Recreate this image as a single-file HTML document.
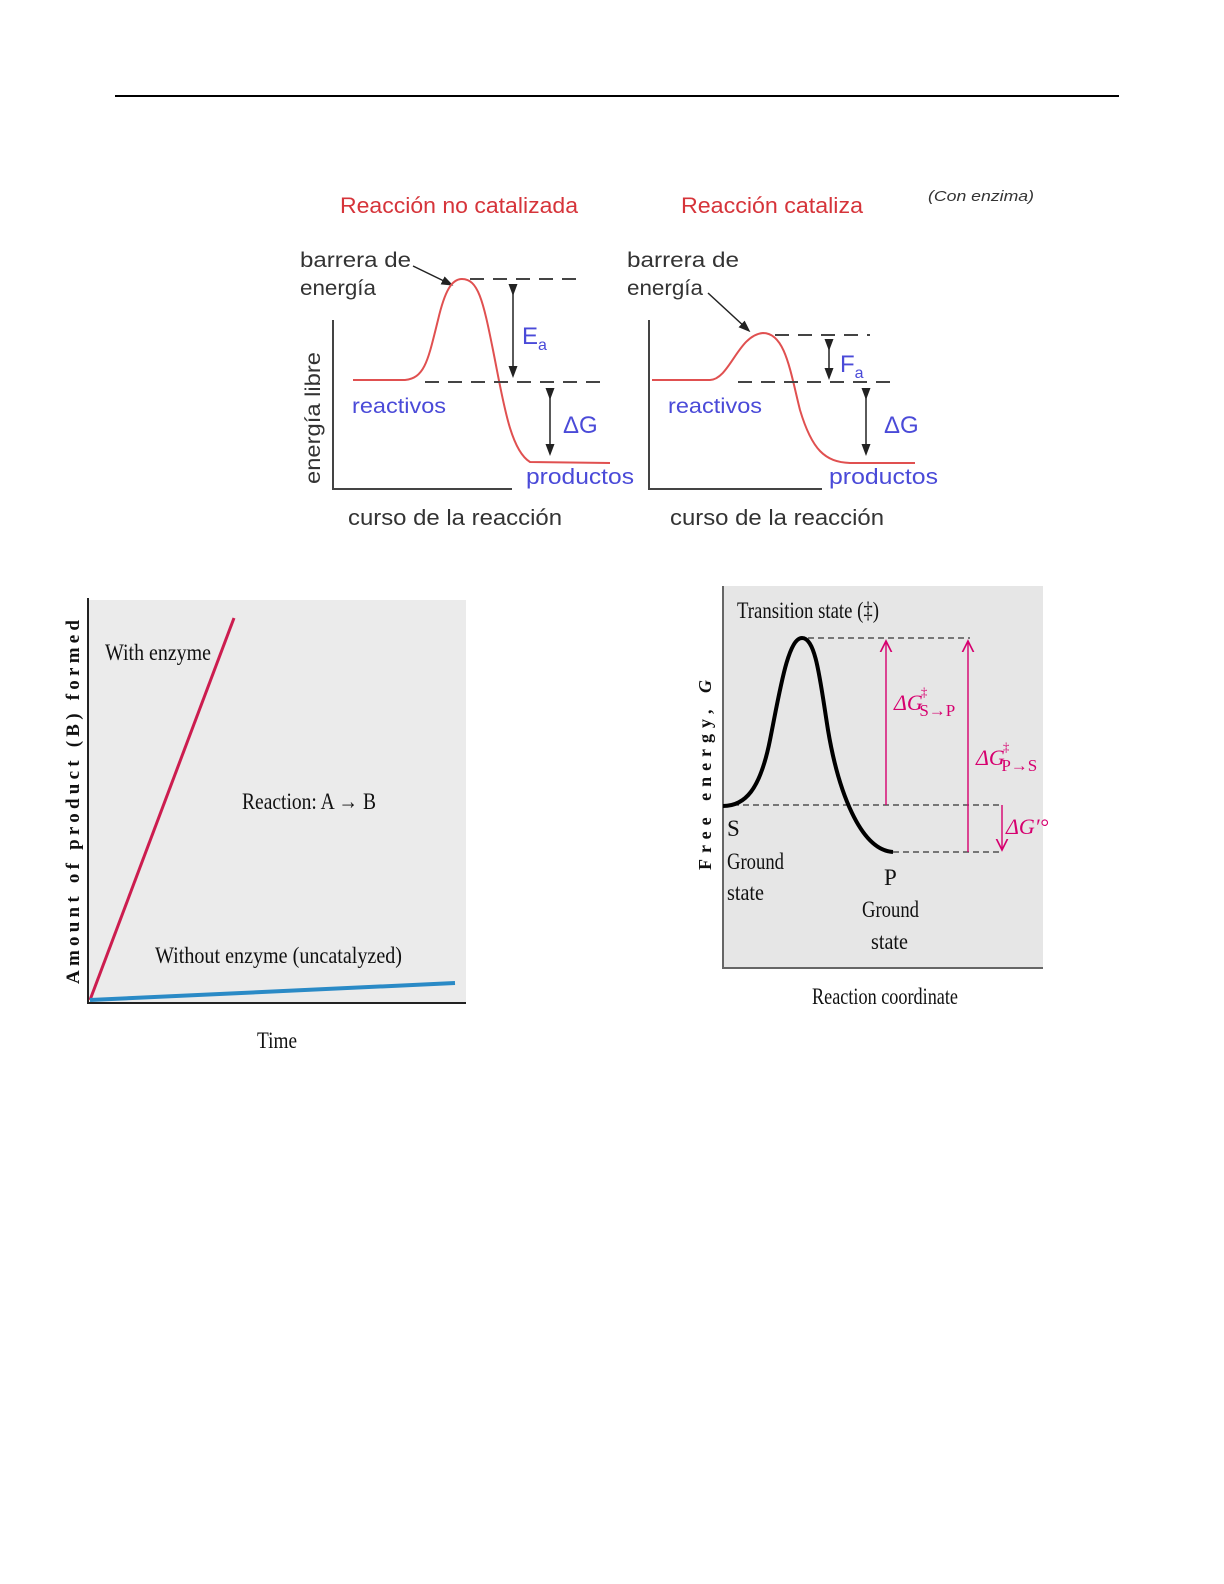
<!DOCTYPE html>
<html><head><meta charset="utf-8"><style>
html,body{margin:0;padding:0;background:#fff;}
svg{display:block;}
</style></head><body>
<svg width="1224" height="1584" viewBox="0 0 1224 1584" xmlns="http://www.w3.org/2000/svg">
<defs>
<marker id="ab" markerWidth="8" markerHeight="8" refX="4" refY="4" orient="auto"><path d="M0,1 L8,4 L0,7 z" fill="#222"/></marker>
<marker id="am" markerWidth="10" markerHeight="10" refX="8" refY="5" orient="auto"><path d="M0,1 L8,5 L0,9" fill="none" stroke="#d6006f" stroke-width="1.2"/></marker>
</defs>
<line x1="115" y1="96" x2="1119" y2="96" stroke="#000" stroke-width="2"/>

<g font-family="Liberation Sans, sans-serif">
<text x="340" y="213" font-size="22" fill="#d6343a" textLength="238" lengthAdjust="spacingAndGlyphs">Reacción no catalizada</text>
<text x="681" y="213" font-size="22" fill="#d6343a" textLength="182" lengthAdjust="spacingAndGlyphs">Reacción cataliza</text>
<text x="928" y="201" font-size="15" font-style="italic" fill="#333" textLength="106" lengthAdjust="spacingAndGlyphs">(Con enzima)</text>

<text x="300" y="267" font-size="21" fill="#333" textLength="111" lengthAdjust="spacingAndGlyphs">barrera de</text>
<text x="300" y="295" font-size="21" fill="#333" textLength="76" lengthAdjust="spacingAndGlyphs">energía</text>
<text x="627" y="267" font-size="21" fill="#333" textLength="112" lengthAdjust="spacingAndGlyphs">barrera de</text>
<text x="627" y="295" font-size="21" fill="#333" textLength="76" lengthAdjust="spacingAndGlyphs">energía</text>
<line x1="413" y1="266" x2="448" y2="283" stroke="#222" stroke-width="1.5" marker-end="url(#ab)"/>
<line x1="708" y1="293" x2="746" y2="328" stroke="#222" stroke-width="1.5" marker-end="url(#ab)"/>

<path d="M333,320 V489 H512" fill="none" stroke="#444" stroke-width="2"/>
<path d="M649,320 V489 H822" fill="none" stroke="#444" stroke-width="2"/>

<path d="M353,380 L405,380 C425,378 428,360 438,320 C445,290 452,279 462,279 C478,279 483,300 493,350 C503,400 510,450 530,462 L610,463" fill="none" stroke="#e05050" stroke-width="2"/>
<path d="M652,380 L710,380 C730,379 738,335 763,333 C785,333 790,370 800,410 C812,450 825,462 850,463 L915,463" fill="none" stroke="#e05050" stroke-width="2"/>

<g stroke="#444" stroke-width="2" stroke-dasharray="14,9">
<line x1="470" y1="279" x2="585" y2="279"/>
<line x1="425" y1="382" x2="605" y2="382"/>
<line x1="775" y1="335" x2="870" y2="335"/>
<line x1="738" y1="382" x2="898" y2="382"/>
</g>
<g stroke="#222" stroke-width="1.5">
<line x1="513" y1="290" x2="513" y2="372" marker-end="url(#ab)" marker-start="url(#ab)"/>
<line x1="550" y1="394" x2="550" y2="450" marker-end="url(#ab)" marker-start="url(#ab)"/>
<line x1="829" y1="345" x2="829" y2="374" marker-end="url(#ab)" marker-start="url(#ab)"/>
<line x1="866" y1="394" x2="866" y2="450" marker-end="url(#ab)" marker-start="url(#ab)"/>
</g>
<text x="522" y="344" font-size="24" fill="#4a4ad8">E<tspan font-size="16" dy="6">a</tspan></text>
<text x="840" y="372" font-size="24" fill="#4a4ad8">F<tspan font-size="16" dy="6">a</tspan></text>
<text x="563" y="433" font-size="24" fill="#4a4ad8">ΔG</text>
<text x="884" y="433" font-size="24" fill="#4a4ad8">ΔG</text>
<text x="352" y="413" font-size="21" fill="#4a4ad8" textLength="94" lengthAdjust="spacingAndGlyphs">reactivos</text>
<text x="668" y="413" font-size="21" fill="#4a4ad8" textLength="94" lengthAdjust="spacingAndGlyphs">reactivos</text>
<text x="526" y="484" font-size="22" fill="#4a4ad8" textLength="108" lengthAdjust="spacingAndGlyphs">productos</text>
<text x="829" y="484" font-size="22" fill="#4a4ad8" textLength="109" lengthAdjust="spacingAndGlyphs">productos</text>
<text x="348" y="525" font-size="22" fill="#333" textLength="214" lengthAdjust="spacingAndGlyphs">curso de la reacción</text>
<text x="670" y="525" font-size="22" fill="#333" textLength="214" lengthAdjust="spacingAndGlyphs">curso de la reacción</text>
<text transform="translate(320,418) rotate(-90)" text-anchor="middle" font-size="21" fill="#333" textLength="132" lengthAdjust="spacingAndGlyphs">energía libre</text>
</g>

<rect x="88" y="600" width="378" height="403" fill="#ebebeb"/>
<path d="M88,598 V1003 H466" fill="none" stroke="#222" stroke-width="2"/>
<line x1="90" y1="1000" x2="234" y2="618" stroke="#cc1d4f" stroke-width="3"/>
<line x1="90" y1="1000" x2="455" y2="983" stroke="#2a8ac6" stroke-width="4"/>
<g font-family="Liberation Serif, serif" fill="#111">
<text x="105" y="660" font-size="23" textLength="106" lengthAdjust="spacingAndGlyphs">With enzyme</text>
<text x="242" y="809" font-size="23" textLength="134" lengthAdjust="spacingAndGlyphs">Reaction: A → B</text>
<text x="155" y="963" font-size="23" textLength="247" lengthAdjust="spacingAndGlyphs">Without enzyme (uncatalyzed)</text>
<text x="257" y="1048" font-size="23" textLength="40" lengthAdjust="spacingAndGlyphs">Time</text>
<text transform="translate(79,802) rotate(-90)" text-anchor="middle" font-size="19" font-weight="bold" textLength="364" lengthAdjust="spacing">Amount of product (B) formed</text>
</g>

<rect x="723" y="586" width="320" height="382" fill="#e6e6e6"/>
<path d="M723,586 V968 H1043" fill="none" stroke="#666" stroke-width="2"/>
<g stroke="#333" stroke-width="1.2" stroke-dasharray="6,4">
<line x1="808" y1="638" x2="970" y2="638"/>
<line x1="723" y1="805" x2="1002" y2="805"/>
<line x1="893" y1="852" x2="1002" y2="852"/>
</g>
<path d="M723,806 C745,806 760,790 770,740 C780,690 788,638 802,638 C816,638 820,680 828,730 C838,790 860,850 893,852" fill="none" stroke="#000" stroke-width="4"/>
<g stroke="#d6006f" stroke-width="1.4">
<line x1="886" y1="805" x2="886" y2="641" marker-end="url(#am)"/>
<line x1="968" y1="852" x2="968" y2="641" marker-end="url(#am)"/>
<line x1="1002" y1="805" x2="1002" y2="850" marker-end="url(#am)"/>
</g>
<g font-family="Liberation Serif, serif" fill="#111">
<text x="737" y="618" font-size="23" textLength="142" lengthAdjust="spacingAndGlyphs">Transition state (‡)</text>
<text x="727" y="836" font-size="23">S</text>
<text x="727" y="869" font-size="23" textLength="57" lengthAdjust="spacingAndGlyphs">Ground</text>
<text x="727" y="900" font-size="23" textLength="37" lengthAdjust="spacingAndGlyphs">state</text>
<text x="884" y="885" font-size="23">P</text>
<text x="862" y="917" font-size="23" textLength="57" lengthAdjust="spacingAndGlyphs">Ground</text>
<text x="871" y="949" font-size="23" textLength="37" lengthAdjust="spacingAndGlyphs">state</text>
<text x="812" y="1004" font-size="23" textLength="146" lengthAdjust="spacingAndGlyphs">Reaction coordinate</text>
<text transform="translate(711,775) rotate(-90)" text-anchor="middle" font-size="18" font-weight="bold" textLength="190" lengthAdjust="spacing">Free energy, <tspan font-style="italic">G</tspan></text>
</g>
<g font-family="Liberation Serif, serif" fill="#d6006f" font-size="22">
<text x="894" y="710"><tspan font-style="italic">ΔG</tspan><tspan font-size="13" dy="-14" dx="-2">‡</tspan><tspan font-size="17" dy="20" dx="-8">S→P</tspan></text>
<text x="976" y="765"><tspan font-style="italic">ΔG</tspan><tspan font-size="13" dy="-14" dx="-2">‡</tspan><tspan font-size="17" dy="20" dx="-8">P→S</tspan></text>
<text x="1006" y="834" font-style="italic">ΔG′°</text>
</g>
</svg>
</body></html>
